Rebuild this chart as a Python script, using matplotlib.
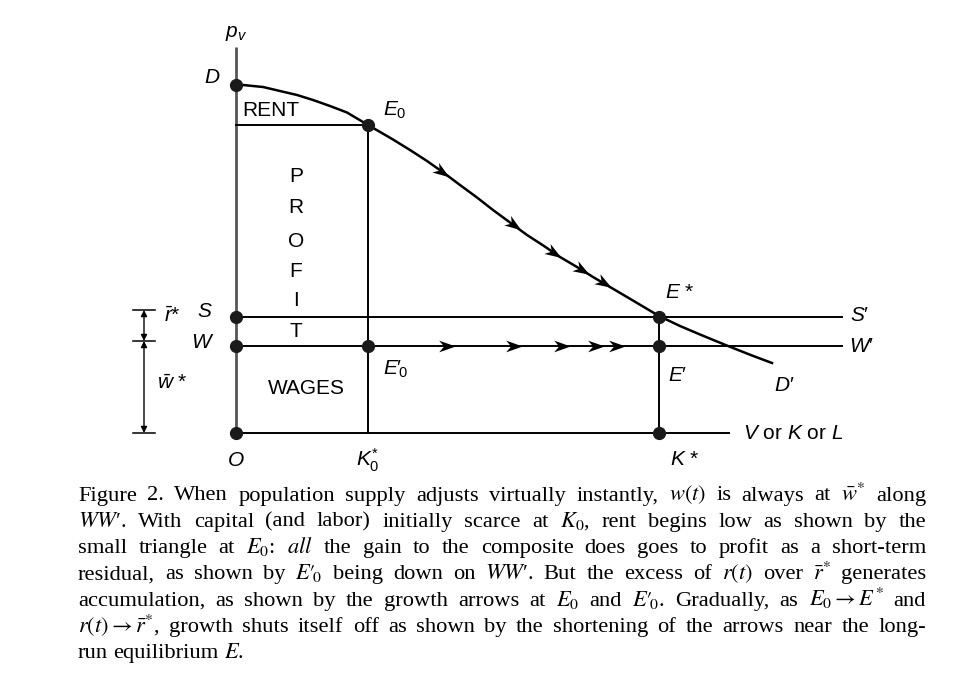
import numpy as np
import matplotlib
matplotlib.use("Agg")
import matplotlib.pyplot as plt
from matplotlib.markers import MarkerStyle
from matplotlib.path import Path
from matplotlib.transforms import Affine2D

plt.rcParams['font.family'] = ['Liberation Sans', 'DejaVu Sans']
plt.rcParams['mathtext.fontset'] = 'custom'
plt.rcParams['mathtext.rm'] = 'Liberation Sans'
plt.rcParams['mathtext.it'] = 'Liberation Sans:italic'
plt.rcParams['mathtext.bf'] = 'Liberation Sans:bold'

# demand curve D -> D' (capital on x, price p_v on y)
curve_x = [0, 7, 27, 44, 61, 77, 94, 111, 132, 145, 157, 174, 191, 208, 224, 241, 257,
           274, 291, 308, 324, 341, 357, 374, 391, 407, 423, 444, 464, 481, 497, 516, 536]
curve_y = [348, 348, 346, 342, 338, 333, 327, 320.5, 308, 300.5, 293.5, 283, 272, 260, 248, 235.5, 223,
           210.5, 198, 187, 176, 166, 156, 146, 136, 126.5, 117, 107, 98.5, 91.5, 85, 77.5, 70]

# key levels of the diagram
k0 = 132          # K0*
k_star = 423      # K*
p_d = 348         # D
p_e0 = 308        # E0
s_level = 116     # SS'
w_level = 87      # WW'
axis_top = 386
axis_right = 493
line_right = 606

# growth arrows (shorter near the equilibrium)
curve_arrow_x = [206, 278, 318, 346, 368]
ww_arrow_x = [211, 278, 326, 360, 381]

# dimension marks on the left: r* and w*
dim_x = -92
dim_levels = [123, 92, 0]

caption_lines = [
    r"Figure 2.  When population supply adjusts virtually instantly, $w(t)$ is always at $\bar{w}^{*}$ along",
    r"$WW$′. With capital (and labor) initially scarce at $K_0$, rent begins low as shown by the",
    r"small triangle at $E_0$: $all$ the gain to the composite does goes to profit as a short-term",
    r"residual, as shown by $E′\!{}_0$ being down on $WW$′. But the excess of $r(t)$ over $\bar{r}^{*}$ generates",
    r"accumulation, as shown by the growth arrows at $E_0$ and $E′\!{}_0$. Gradually, as $E_0{\rightarrow}E^{*}$ and",
    r"$r(t){\rightarrow}\bar{r}^{*}$, growth shuts itself off as shown by the shortening of the arrows near the long-",
    r"run equilibrium $E$.",
]

W, H = 958, 691
fig = plt.figure(figsize=(W / 100, H / 100), dpi=100)
ax = fig.add_axes([0, 0, 1, 1])
ax.set_xlim(-236, W - 236)
ax.set_ylim(433 - H, 433)
ax.axis('off')

# axes
ax.plot([0, 0], [0, axis_top], color='#555555', lw=2, solid_capstyle='butt')
ax.plot([0, axis_right], [0, 0], color='black', lw=1.4)
# rent / K0 lines
ax.plot([0, k0], [p_e0, p_e0], color='black', lw=1.4)
ax.plot([k0, k0], [0, p_e0], color='black', lw=1.4)
# SS' and WW'
ax.plot([0, line_right], [s_level, s_level], color='black', lw=1.4)
ax.plot([0, line_right], [w_level, w_level], color='black', lw=1.4)
# K* vertical
ax.plot([k_star, k_star], [0, s_level], color='black', lw=1.4)
# demand curve
ax.plot(curve_x, curve_y, color='black', lw=1.8, solid_joinstyle='round')

# arrowhead marker (barbed)
arrow_path = Path([(1, 0), (-1, 0.7), (-0.4, 0), (-1, -0.7), (1, 0)],
                  [Path.MOVETO, Path.LINETO, Path.LINETO, Path.LINETO, Path.CLOSEPOLY])

def arrow_marker(angle):
    return MarkerStyle(arrow_path, transform=Affine2D().rotate_deg(angle))

cx = np.array(curve_x, dtype=float)
cy = np.array(curve_y, dtype=float)
for xa in curve_arrow_x:
    ya = np.interp(xa, cx, cy)
    i = np.searchsorted(cx, xa)
    ang = np.degrees(np.arctan2(cy[i + 1] - cy[i - 2], cx[i + 1] - cx[i - 2]))
    ax.plot([xa], [ya], marker=arrow_marker(ang), ms=12, color='black', mew=0)
for xa in ww_arrow_x:
    ax.plot([xa], [w_level], marker=arrow_marker(0), ms=12, color='black', mew=0)

# dots
dot_x = [0, k0, 0, 0, k0, k_star, k_star, 0, k_star]
dot_y = [p_d, p_e0, s_level, w_level, w_level, s_level, w_level, 0, 0]
ax.plot(dot_x, dot_y, 'o', color='#1a1a1a', ms=8.5, zorder=5)

# dimension marks
for lv in dim_levels:
    ax.plot([dim_x - 11, dim_x + 11], [lv, lv], color='black', lw=1.1)
for a, b in zip(dim_levels[:-1], dim_levels[1:]):
    ax.annotate('', xy=(dim_x, b), xytext=(dim_x, a),
                arrowprops=dict(arrowstyle='<|-|>', lw=1.0, color='black',
                                mutation_scale=9, shrinkA=0, shrinkB=0))

fs = 15
lab = dict(fontsize=fs, ha='center', va='center')
ax.text(0, 400, r'$p_v$', **lab)
ax.text(-24, 356, r'$D$', **lab)
ax.text(35, 323, 'RENT', **lab)
ax.text(159, 323, r'$E_\mathrm{0}$', **lab)
for ch, yy in zip('PROFIT', [257, 226, 192, 162, 133, 102]):
    ax.text(60, yy, ch, **lab)
ax.text(444, 141, r'$E$ *', **lab)
ax.text(-31, 122, r'$S$', **lab)
ax.text(-33, 91, r'$W$', **lab)
ax.text(-64, 117, r'$\bar{r}$*', **lab)
ax.text(-64, 50, r'$\bar{w}$ *', **lab)
ax.text(70, 45, 'WAGES', **lab)
ax.text(159, 64, r'$E′\!{}_\mathrm{0}$', **lab)
ax.text(442, 58, r"$E$′", **lab)
ax.text(548, 48, r"$D$′", **lab)
ax.text(507, 0, r'$V$ or $K$ or $L$', fontsize=fs, ha='left', va='center')
ax.text(624, 118, r"$S$′", **lab)
ax.text(626, 87, r"$W$′", **lab)
ax.text(0, -27, r'$O$', **lab)
ax.text(k0, -27, r'$K^{*}_\mathrm{0}$', **lab)
ax.text(449, -26, r'$K$ *', **lab)

# caption, justified
cap_left, cap_right = 78, 926
cap_base, cap_step = 500.5, 26.3
renderer = fig.canvas.get_renderer()
for n, line in enumerate(caption_lines):
    words = line.split()
    texts = [fig.text(0, 0, w, fontsize=16.2, family='Liberation Serif',
                      math_fontfamily='stix', va='baseline', ha='left') for w in words]
    widths = [t.get_window_extent(renderer).width for t in texts]
    if n < len(caption_lines) - 1:
        gap = (cap_right - cap_left - sum(widths)) / (len(words) - 1)
    else:
        gap = 5.5
    x = cap_left
    yb = cap_base + n * cap_step
    for t, wd in zip(texts, widths):
        t.set_position((x / W, 1 - yb / H))
        x += wd + gap

fig.savefig('out.png', dpi=100)
